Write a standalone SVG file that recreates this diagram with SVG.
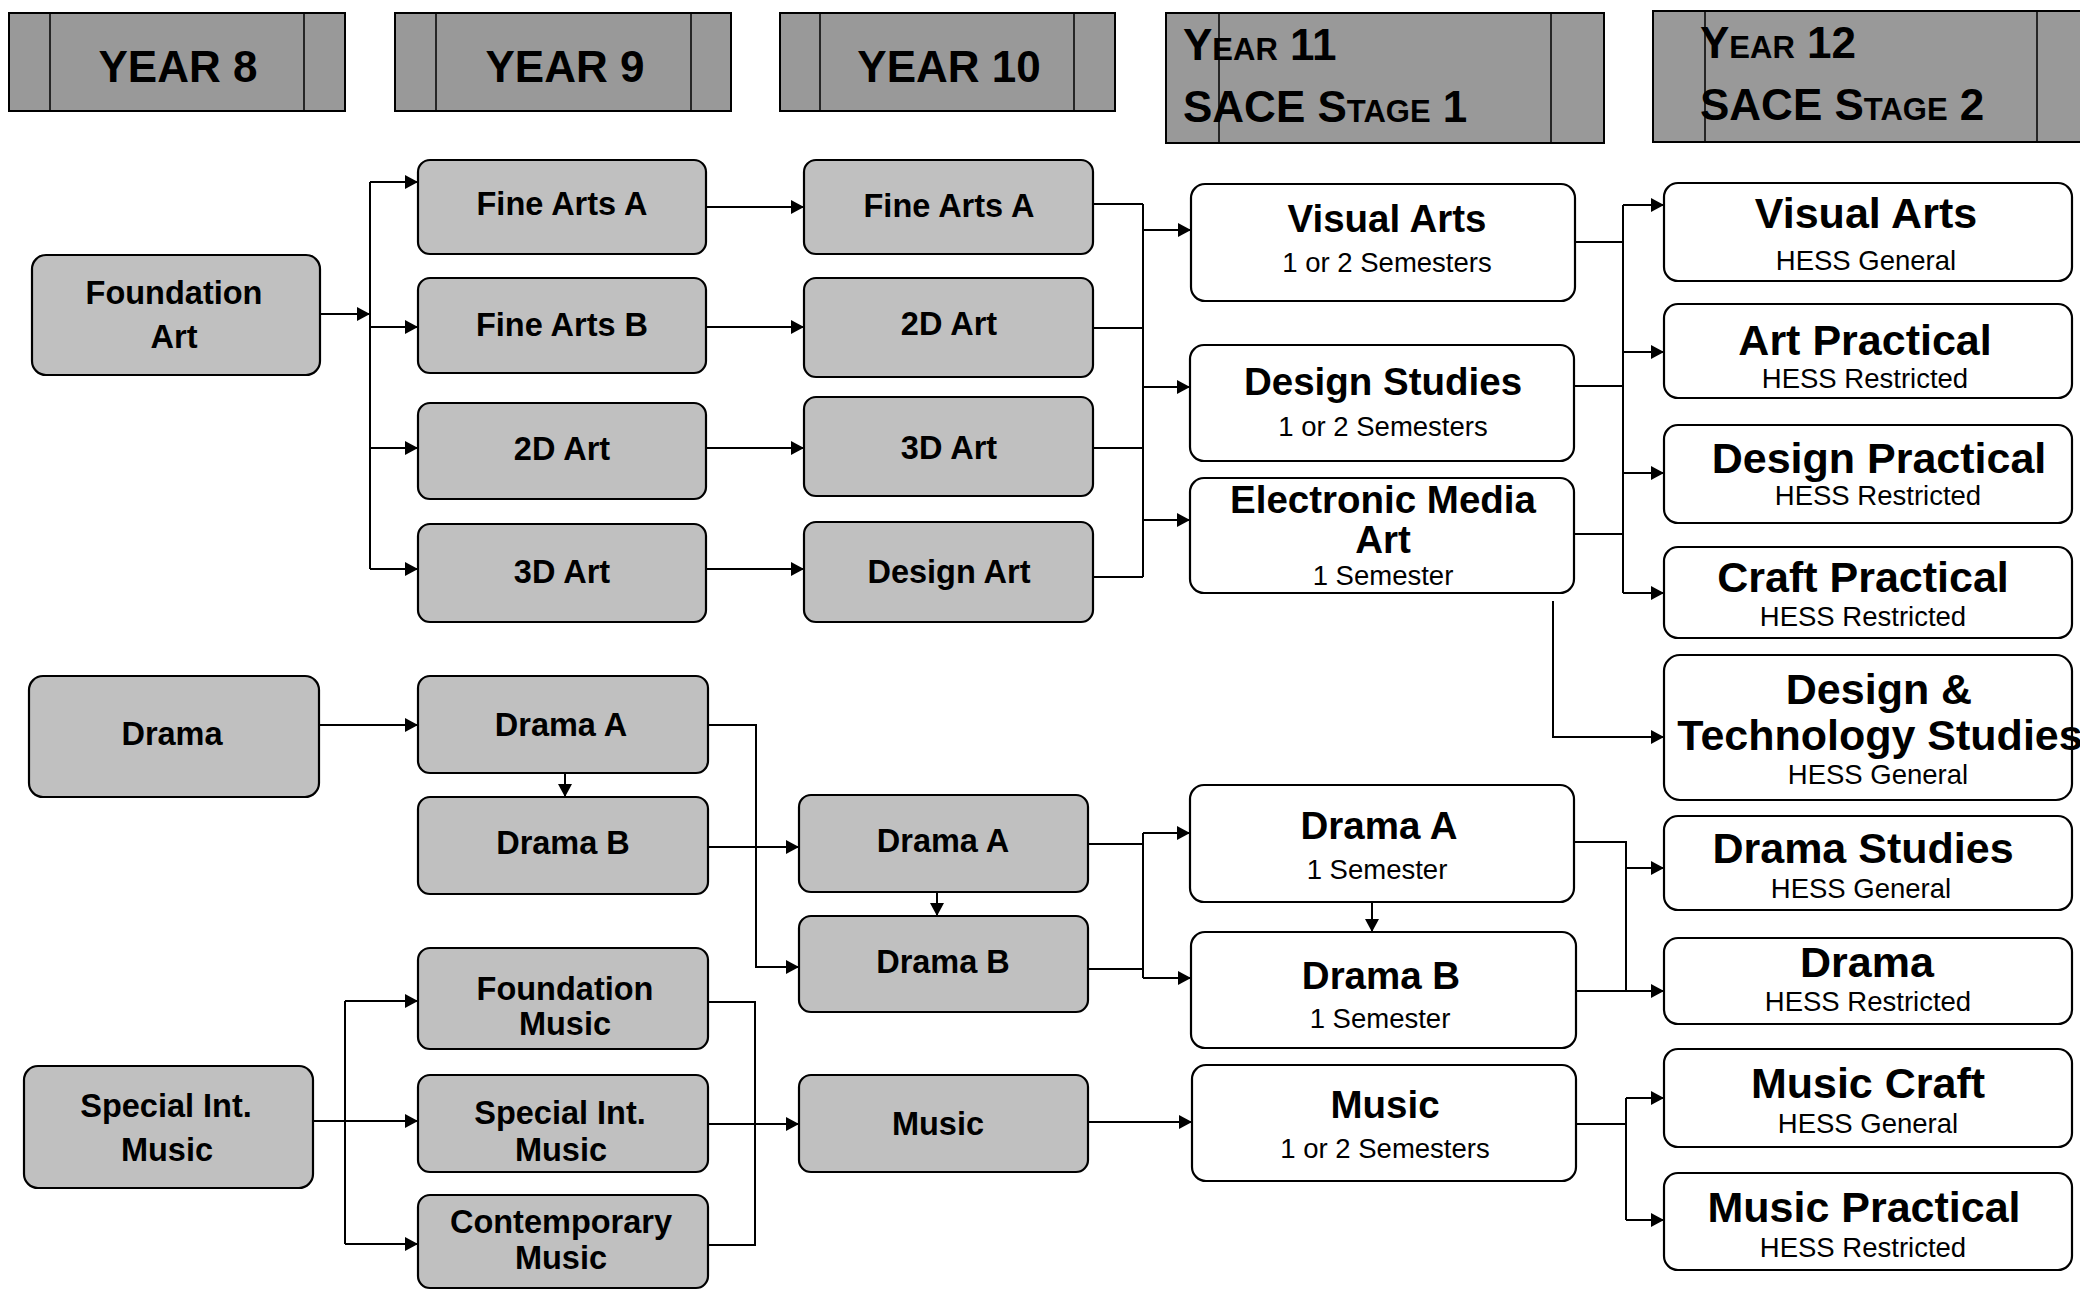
<svg xmlns="http://www.w3.org/2000/svg" width="2080" height="1290" viewBox="0 0 2080 1290">
<defs>
<marker id="ah" markerUnits="userSpaceOnUse" markerWidth="14" markerHeight="14" refX="13" refY="7" orient="auto">
<path d="M0,0 L13,7 L0,14 z" fill="#000"/>
</marker>
<style>
.hdr{fill:#999999;stroke:#000;stroke-width:2}
.hl{stroke:#000;stroke-width:1.5}
.ht{font-family:"Liberation Sans",Arial,sans-serif;font-weight:bold;font-size:44px;fill:#000;text-anchor:middle}
.hs{font-family:"Liberation Sans",Arial,sans-serif;font-weight:bold;font-size:44px;fill:#000;font-variant:small-caps}
.g{fill:#C0C0C0;stroke:#000;stroke-width:2.2}
.w{fill:#FFFFFF;stroke:#000;stroke-width:2.2}
.t{font-family:"Liberation Sans",Arial,sans-serif;font-weight:bold;font-size:32.5px;fill:#000;text-anchor:middle}
.t11{font-family:"Liberation Sans",Arial,sans-serif;font-weight:bold;font-size:38.5px;fill:#000;text-anchor:middle}
.t12{font-family:"Liberation Sans",Arial,sans-serif;font-weight:bold;font-size:43px;fill:#000;text-anchor:middle}
.s{font-family:"Liberation Sans",Arial,sans-serif;font-size:27.5px;fill:#000;text-anchor:middle}
.s12{font-family:"Liberation Sans",Arial,sans-serif;font-size:27.5px;fill:#000;text-anchor:middle}
.c{fill:none;stroke:#000;stroke-width:2}
.a{fill:none;stroke:#000;stroke-width:2;marker-end:url(#ah)}
</style>
</defs>
<rect width="2080" height="1290" fill="#FFFFFF"/>

<g id="headers">
<g id="hdr-y8"><rect class="hdr" x="9" y="13" width="336" height="98"/><line class="hl" x1="50" y1="13" x2="50" y2="111"/><line class="hl" x1="304" y1="13" x2="304" y2="111"/><text class="ht" x="178" y="82">YEAR 8</text></g>
<g id="hdr-y9"><rect class="hdr" x="395" y="13" width="336" height="98"/><line class="hl" x1="436" y1="13" x2="436" y2="111"/><line class="hl" x1="691" y1="13" x2="691" y2="111"/><text class="ht" x="565" y="82">YEAR 9</text></g>
<g id="hdr-y10"><rect class="hdr" x="780" y="13" width="335" height="98"/><line class="hl" x1="820" y1="13" x2="820" y2="111"/><line class="hl" x1="1074" y1="13" x2="1074" y2="111"/><text class="ht" x="949" y="82">YEAR 10</text></g>
<g id="hdr-y11"><rect class="hdr" x="1166" y="13" width="438" height="130"/><line class="hl" x1="1219" y1="13" x2="1219" y2="143"/><line class="hl" x1="1551" y1="13" x2="1551" y2="143"/><text class="hs" x="1183" y="60">Year 11</text><text class="hs" x="1183" y="122">SACE Stage 1</text></g>
<g id="hdr-y12"><rect class="hdr" x="1653" y="11" width="440" height="131"/><line class="hl" x1="1705" y1="11" x2="1705" y2="142"/><line class="hl" x1="2037" y1="11" x2="2037" y2="142"/><text class="hs" x="1700" y="58">Year 12</text><text class="hs" x="1700" y="120">SACE Stage 2</text></g>
</g>

<g id="connectors">
<path class="a" d="M320,314 H370"/>
<path class="c" d="M370,182 V569"/>
<path class="a" d="M370,182 H418"/>
<path class="a" d="M370,327 H418"/>
<path class="a" d="M370,448 H418"/>
<path class="a" d="M370,569 H418"/>
<path class="a" d="M706,207 H804"/>
<path class="a" d="M706,327 H804"/>
<path class="a" d="M706,448 H804"/>
<path class="a" d="M706,569 H804"/>
<path class="c" d="M1093,204 H1143 M1093,328 H1143 M1093,448 H1143 M1093,577 H1143 M1143,204 V577"/>
<path class="a" d="M1143,230 H1191"/>
<path class="a" d="M1143,387 H1190"/>
<path class="a" d="M1143,520 H1190"/>
<path class="c" d="M1575,242 H1623 M1574,386 H1623 M1574,534 H1623 M1623,205 V593"/>
<path class="a" d="M1623,205 H1664"/>
<path class="a" d="M1623,352 H1664"/>
<path class="a" d="M1623,473 H1664"/>
<path class="a" d="M1623,593 H1664"/>
<path class="a" d="M1553,601 V737 H1664"/>

<path class="a" d="M319,725 H418"/>
<path class="a" d="M565,773 V797"/>
<path class="a" d="M708,725 H756 V967 H799"/>
<path class="a" d="M708,847 H799"/>
<path class="a" d="M937,892 V916"/>
<path class="c" d="M1088,844 H1143 M1088,969 H1143 M1143,833 V978"/>
<path class="a" d="M1143,833 H1190"/>
<path class="a" d="M1143,978 H1191"/>
<path class="a" d="M1372,902 V932"/>
<path class="c" d="M1574,842 H1626 V991"/>
<path class="a" d="M1576,991 H1664"/>
<path class="a" d="M1626,868 H1664"/>

<path class="a" d="M313,1121 H418"/>
<path class="c" d="M345,1001 V1244"/>
<path class="a" d="M345,1001 H418"/>
<path class="a" d="M345,1244 H418"/>
<path class="c" d="M708,1002 H755 V1245 H708"/>
<path class="a" d="M708,1124 H799"/>
<path class="a" d="M1088,1122 H1192"/>
<path class="c" d="M1576,1124 H1626 M1626,1098 V1220"/>
<path class="a" d="M1626,1098 H1664"/>
<path class="a" d="M1626,1220 H1664"/>
</g>

<g id="n-foundation-art"><rect class="g" x="32" y="255" width="288" height="120" rx="14"/><text class="t" x="174" y="304">Foundation</text><text class="t" x="174" y="348">Art</text></g>
<g id="n-y9-fine-arts-a"><rect class="g" x="418" y="160" width="288" height="94" rx="12"/><text class="t" x="562" y="215">Fine Arts A</text></g>
<g id="n-y9-fine-arts-b"><rect class="g" x="418" y="278" width="288" height="95" rx="12"/><text class="t" x="562" y="336">Fine Arts B</text></g>
<g id="n-y9-2d-art"><rect class="g" x="418" y="403" width="288" height="96" rx="12"/><text class="t" x="562" y="460">2D Art</text></g>
<g id="n-y9-3d-art"><rect class="g" x="418" y="524" width="288" height="98" rx="12"/><text class="t" x="562" y="583">3D Art</text></g>
<g id="n-y10-fine-arts-a"><rect class="g" x="804" y="160" width="289" height="94" rx="12"/><text class="t" x="949" y="217">Fine Arts A</text></g>
<g id="n-y10-2d-art"><rect class="g" x="804" y="278" width="289" height="99" rx="12"/><text class="t" x="949" y="335">2D Art</text></g>
<g id="n-y10-3d-art"><rect class="g" x="804" y="397" width="289" height="99" rx="12"/><text class="t" x="949" y="459">3D Art</text></g>
<g id="n-y10-design-art"><rect class="g" x="804" y="522" width="289" height="100" rx="12"/><text class="t" x="949" y="583">Design Art</text></g>

<g id="n-y11-visual-arts"><rect class="w" x="1191" y="184" width="384" height="117" rx="14"/><text class="t11" x="1387" y="232">Visual Arts</text><text class="s" x="1387" y="272">1 or 2 Semesters</text></g>
<g id="n-y11-design-studies"><rect class="w" x="1190" y="345" width="384" height="116" rx="14"/><text class="t11" x="1383" y="395">Design Studies</text><text class="s" x="1383" y="436">1 or 2 Semesters</text></g>
<g id="n-y11-electronic-media-art"><rect class="w" x="1190" y="478" width="384" height="115" rx="14"/><text class="t11" x="1383" y="513">Electronic Media</text><text class="t11" x="1383" y="553">Art</text><text class="s" x="1383" y="585">1 Semester</text></g>

<g id="n-y12-visual-arts"><rect class="w" x="1664" y="183" width="408" height="98" rx="14"/><text class="t12" x="1866" y="228">Visual Arts</text><text class="s12" x="1866" y="270">HESS General</text></g>
<g id="n-y12-art-practical"><rect class="w" x="1664" y="304" width="408" height="94" rx="14"/><text class="t12" x="1865" y="355">Art Practical</text><text class="s12" x="1865" y="388">HESS Restricted</text></g>
<g id="n-y12-design-practical"><rect class="w" x="1664" y="425" width="408" height="98" rx="14"/><text class="t12" x="1879" y="473">Design Practical</text><text class="s12" x="1878" y="505">HESS Restricted</text></g>
<g id="n-y12-craft-practical"><rect class="w" x="1664" y="547" width="408" height="91" rx="14"/><text class="t12" x="1863" y="592">Craft Practical</text><text class="s12" x="1863" y="626">HESS Restricted</text></g>
<g id="n-y12-design-tech"><rect class="w" x="1664" y="655" width="408" height="145" rx="16"/><text class="t12" x="1879" y="704">Design &amp;</text><text class="t12" x="1880" y="750">Technology Studies</text><text class="s12" x="1878" y="784">HESS General</text></g>

<g id="n-y8-drama"><rect class="g" x="29" y="676" width="290" height="121" rx="14"/><text class="t" x="172" y="745">Drama</text></g>
<g id="n-y9-drama-a"><rect class="g" x="418" y="676" width="290" height="97" rx="12"/><text class="t" x="561" y="736">Drama A</text></g>
<g id="n-y9-drama-b"><rect class="g" x="418" y="797" width="290" height="97" rx="12"/><text class="t" x="563" y="854">Drama B</text></g>
<g id="n-y10-drama-a"><rect class="g" x="799" y="795" width="289" height="97" rx="12"/><text class="t" x="943" y="852">Drama A</text></g>
<g id="n-y10-drama-b"><rect class="g" x="799" y="916" width="289" height="96" rx="12"/><text class="t" x="943" y="973">Drama B</text></g>
<g id="n-y11-drama-a"><rect class="w" x="1190" y="785" width="384" height="117" rx="14"/><text class="t11" x="1379" y="839">Drama A</text><text class="s" x="1377" y="879">1 Semester</text></g>
<g id="n-y11-drama-b"><rect class="w" x="1191" y="932" width="385" height="116" rx="14"/><text class="t11" x="1381" y="989">Drama B</text><text class="s" x="1380" y="1028">1 Semester</text></g>
<g id="n-y12-drama-studies"><rect class="w" x="1664" y="816" width="408" height="94" rx="14"/><text class="t12" x="1863" y="863">Drama Studies</text><text class="s12" x="1861" y="898">HESS General</text></g>
<g id="n-y12-drama"><rect class="w" x="1664" y="938" width="408" height="86" rx="14"/><text class="t12" x="1867" y="977">Drama</text><text class="s12" x="1868" y="1011">HESS Restricted</text></g>

<g id="n-y8-special-music"><rect class="g" x="24" y="1066" width="289" height="122" rx="14"/><text class="t" x="166" y="1117">Special Int.</text><text class="t" x="167" y="1161">Music</text></g>
<g id="n-y9-foundation-music"><rect class="g" x="418" y="948" width="290" height="101" rx="12"/><text class="t" x="565" y="1000">Foundation</text><text class="t" x="565" y="1035">Music</text></g>
<g id="n-y9-special-music"><rect class="g" x="418" y="1075" width="290" height="97" rx="12"/><text class="t" x="560" y="1124">Special Int.</text><text class="t" x="561" y="1161">Music</text></g>
<g id="n-y9-contemporary-music"><rect class="g" x="418" y="1195" width="290" height="93" rx="12"/><text class="t" x="561" y="1233">Contemporary</text><text class="t" x="561" y="1269">Music</text></g>
<g id="n-y10-music"><rect class="g" x="799" y="1075" width="289" height="97" rx="12"/><text class="t" x="938" y="1135">Music</text></g>
<g id="n-y11-music"><rect class="w" x="1192" y="1065" width="384" height="116" rx="14"/><text class="t11" x="1385" y="1118">Music</text><text class="s" x="1385" y="1158">1 or 2 Semesters</text></g>
<g id="n-y12-music-craft"><rect class="w" x="1664" y="1049" width="408" height="98" rx="14"/><text class="t12" x="1868" y="1098">Music Craft</text><text class="s12" x="1868" y="1133">HESS General</text></g>
<g id="n-y12-music-practical"><rect class="w" x="1664" y="1173" width="408" height="97" rx="14"/><text class="t12" x="1864" y="1222">Music Practical</text><text class="s12" x="1863" y="1257">HESS Restricted</text></g>
</svg>
